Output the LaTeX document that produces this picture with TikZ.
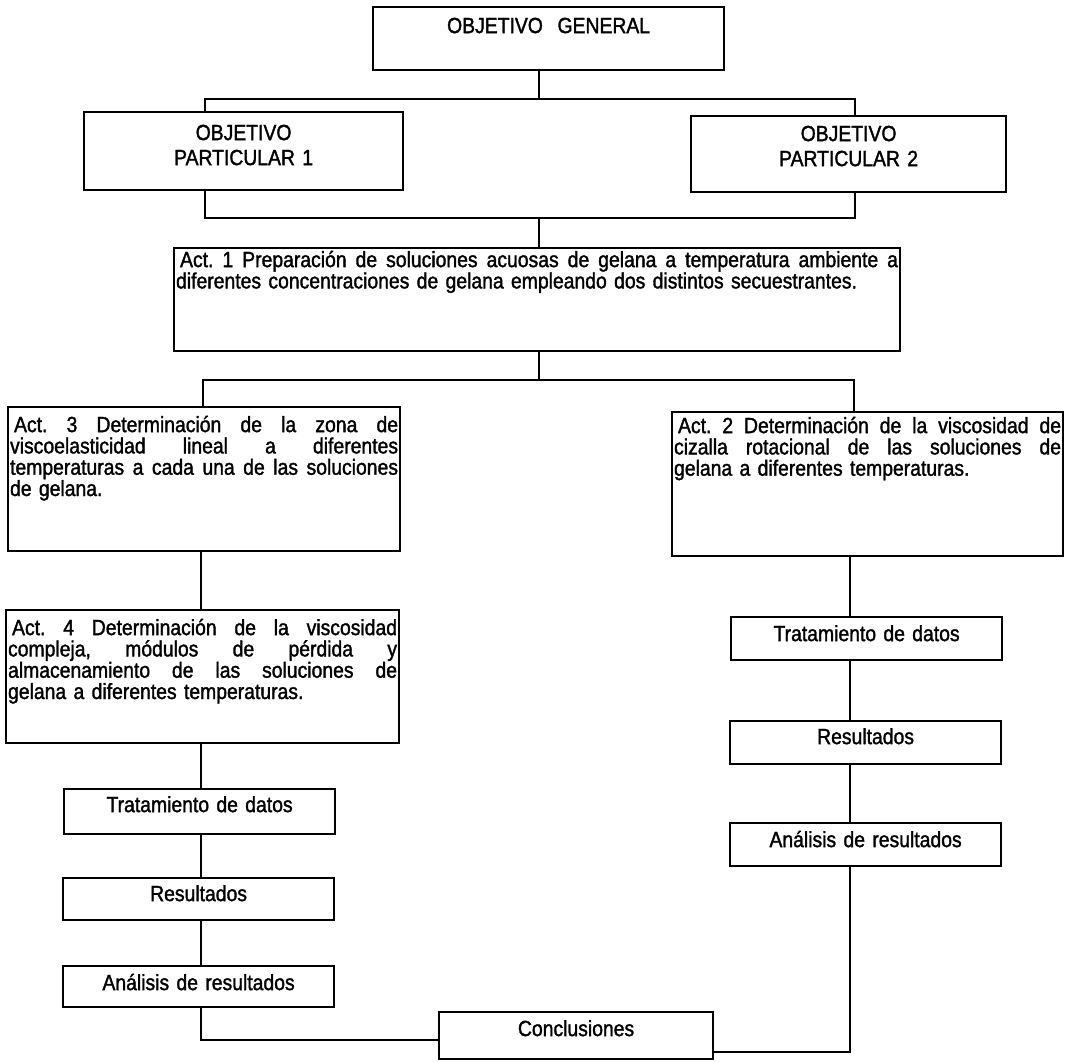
\documentclass[tikz,border=0pt]{standalone}
\usepackage{fontspec}
\setmainfont[FakeStretch=0.88, FakeBold=1.5]{Liberation Sans}
% renglon justificado a todo el ancho de la caja
\newcommand{\justa}[1]{{\frenchspacing\spaceskip=0.25em plus 1fil\relax\makebox[\linewidth][s]{#1}}}
\begin{document}
\begin{tikzpicture}[x=1pt, y=-1pt, line width=2.2pt,
    caja/.style={draw, anchor=north west, inner xsep=0pt, inner ysep=0pt,
      align=center, font=\fontsize{22}{21.3}\selectfont},
    objbox/.style={caja, font=\fontsize{22}{25}\selectfont},
    actbox/.style={draw, anchor=north west, inner xsep=2pt, inner ysep=0pt,
      font=\fontsize{22}{21.3}\selectfont}]
  \useasboundingbox (0,0) rectangle (1077,1062);

  % Objetivos
  \node[caja, text width=351pt, text height=26pt, text depth=37pt]
    (og) at (372,6) {OBJETIVO\ \ GENERAL};
  \node[objbox, text width=319pt, text height=28pt, text depth=50pt]
    (op1) at (83,111) {OBJETIVO\\PARTICULAR 1};
  \node[objbox, text width=315pt, text height=25pt, text depth=51pt]
    (op2) at (690,115) {OBJETIVO\\PARTICULAR 2};

  % Actividades
  \node[actbox, text width=722pt, text height=19pt, text depth=84pt] (act1) at (173,247)
    {\justa{\hspace{4pt}Act. 1 Preparación de soluciones acuosas de gelana a temperatura ambiente a}\\
     diferentes concentraciones de gelana empleando dos distintos secuestrantes.};
  \node[actbox, text width=388pt, text height=25pt, text depth=119pt] (act3) at (7,406)
    {\justa{\hspace{4pt}Act. 3 Determinación de la zona de}\\
     \justa{viscoelasticidad lineal a diferentes}\\
     \justa{temperaturas a cada una de las soluciones}\\
     de gelana.};
  \node[actbox, text width=387pt, text height=21pt, text depth=123pt] (act2) at (671,411)
    {\justa{\hspace{4pt}Act. 2 Determinación de la viscosidad de}\\
     \justa{cizalla rotacional de las soluciones de}\\
     gelana a diferentes temperaturas.};
  \node[actbox, text width=389pt, text height=25pt, text depth=108pt] (act4) at (5,609)
    {\justa{\hspace{4pt}Act. 4 Determinación de la viscosidad}\\
     \justa{compleja, módulos de pérdida y}\\
     \justa{almacenamiento de las soluciones de}\\
     gelana a diferentes temperaturas.};

  % Rama izquierda
  \node[caja, text width=271pt, text height=23pt, text depth=22pt] (tratL) at (63,788) {Tratamiento de datos};
  \node[caja, text width=271pt, text height=23pt, text depth=19pt] (resL) at (62,877) {Resultados};
  \node[caja, text width=271pt, text height=24pt, text depth=17pt] (anaL) at (62,965) {Análisis de resultados};

  % Rama derecha
  \node[caja, text width=271pt, text height=24pt, text depth=19pt] (tratR) at (730,616) {Tratamiento de datos};
  \node[caja, text width=271pt, text height=23pt, text depth=20pt] (resR) at (729,720) {Resultados};
  \node[caja, text width=271pt, text height=24pt, text depth=19pt] (anaR) at (729,822) {Análisis de resultados};

  \node[caja, text width=274pt, text height=24pt, text depth=23pt] (concl) at (438,1011) {Conclusiones};

  % Conectores
  \coordinate (bus1) at (539,99);
  \coordinate (bus1l) at (205,99);
  \coordinate (bus1r) at (855,99);
  \coordinate (bus2) at (539,218);
  \coordinate (bus2l) at (205,218);
  \coordinate (bus2r) at (855,218);
  \coordinate (bus3) at (539,380);
  \coordinate (bus3l) at (203,380);
  \coordinate (bus3r) at (854,380);
  \coordinate (colL) at (201,0);
  \coordinate (colR) at (850,0);

  \draw (og.south -| bus1) -- (bus1);
  \draw (bus1l |- op1.north) -- (bus1l) -- (bus1r) -- (bus1r |- op2.north);
  \draw (bus2l |- op1.south) -- (bus2l) -- (bus2r) -- (bus2r |- op2.south);
  \draw (bus2) -- (bus2 |- act1.north);
  \draw (act1.south -| bus3) -- (bus3);
  \draw (bus3l |- act3.north) -- (bus3l) -- (bus3r) -- (bus3r |- act2.north);

  \foreach \a/\b in {act3/act4, act4/tratL, tratL/resL, resL/anaL}
    \draw (\a.south -| colL) -- (\b.north -| colL);
  \foreach \a/\b in {act2/tratR, tratR/resR, resR/anaR}
    \draw (\a.south -| colR) -- (\b.north -| colR);

  \draw (anaL.south -| colL) |- ([yshift=-4.5pt]concl.west);
  \draw (anaR.south -| colR) |- ([yshift=-16pt]concl.east);
\end{tikzpicture}
\end{document}
